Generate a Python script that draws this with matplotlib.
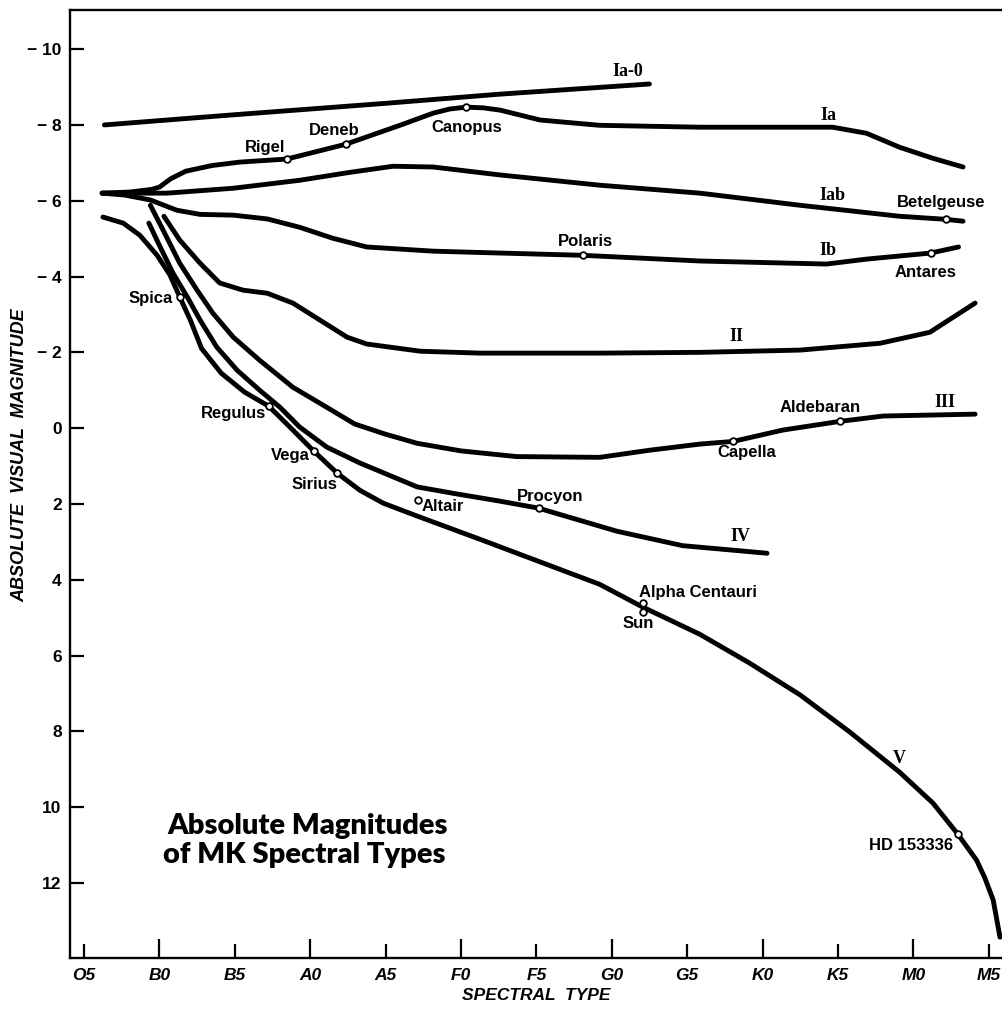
import matplotlib
matplotlib.use("Agg")
import matplotlib.pyplot as plt

# spectral type index: O5=0, B0=1, B5=2, ... M5=12
spec_types = ["O5", "B0", "B5", "A0", "A5", "F0", "F5", "G0", "G5", "K0", "K5", "M0", "M5"]
mag_ticks = [-10, -8, -6, -4, -2, 0, 2, 4, 6, 8, 10, 12]

# luminosity classes (spectral index, absolute magnitude)
ia0_x = [0.27, 2.0, 4.0, 5.5, 7.5]
ia0_y = [-8.0, -8.27, -8.57, -8.81, -9.08]

ia_x = [0.24, 0.61, 0.90, 1.0, 1.15, 1.35, 1.7, 2.07, 2.69, 3.47, 4.19, 4.63, 4.85, 5.07,
        5.30, 5.52, 6.05, 6.84, 8.17, 9.93, 10.38, 10.82, 11.26, 11.66]
ia_y = [-6.2, -6.23, -6.3, -6.36, -6.58, -6.78, -6.93, -7.02, -7.10, -7.49, -7.99, -8.31, -8.42, -8.47,
        -8.45, -8.39, -8.13, -7.99, -7.94, -7.94, -7.78, -7.41, -7.12, -6.89]

iab_x = [0.24, 1.10, 1.98, 2.86, 3.53, 4.10, 4.63, 5.52, 6.84, 8.17, 9.50, 10.82, 11.43, 11.66]
iab_y = [-6.2, -6.2, -6.33, -6.54, -6.75, -6.91, -6.89, -6.68, -6.41, -6.2, -5.88, -5.59, -5.51, -5.46]

ib_x = [0.24, 0.54, 0.88, 1.23, 1.54, 1.98, 2.43, 2.86, 3.30, 3.75, 4.63, 5.52, 6.62,
        8.17, 9.85, 10.38, 11.23, 11.60]
ib_y = [-6.2, -6.15, -6.02, -5.75, -5.64, -5.62, -5.52, -5.30, -5.01, -4.78, -4.67, -4.62, -4.56,
        -4.41, -4.33, -4.46, -4.62, -4.78]

ii_x = [1.06, 1.27, 1.54, 1.80, 2.11, 2.43, 2.77, 3.13, 3.49, 3.75, 4.46, 5.25, 6.84,
        8.17, 9.50, 10.56, 11.22, 11.82]
ii_y = [-5.59, -4.96, -4.35, -3.83, -3.64, -3.56, -3.30, -2.85, -2.40, -2.22, -2.03, -1.98, -1.98,
        -2.0, -2.06, -2.24, -2.53, -3.30]

iii_x = [0.88, 1.05, 1.27, 1.50, 1.71, 1.98, 2.33, 2.77, 3.22, 3.59, 4.0, 4.42, 5.0, 5.74, 6.84,
         7.51, 8.17, 8.61, 9.27, 10.03, 10.60, 11.82]
iii_y = [-5.88, -5.22, -4.35, -3.64, -3.03, -2.40, -1.79, -1.08, -0.55, -0.11, 0.16, 0.40, 0.60, 0.75, 0.77,
         0.58, 0.42, 0.35, 0.05, -0.18, -0.32, -0.37]

iv_x = [0.86, 1.01, 1.18, 1.37, 1.54, 1.76, 2.03, 2.33, 2.60, 2.86, 3.22, 3.66, 4.42, 4.9,
        5.5, 6.03, 6.18, 7.07, 7.94, 9.06]
iv_y = [-5.41, -4.78, -4.09, -3.46, -2.85, -2.14, -1.53, -1.0, -0.55, -0.03, 0.50, 0.92, 1.55, 1.72,
        1.92, 2.11, 2.20, 2.72, 3.10, 3.30]

v_x = [0.25, 0.52, 0.74, 0.97, 1.14, 1.27, 1.41, 1.56, 1.82, 2.13, 2.45, 2.73, 3.05, 3.36,
       3.66, 3.97, 4.42, 5.29, 6.84, 7.41, 8.17, 8.83, 9.50, 10.16, 10.82, 11.26, 11.59,
       11.84, 11.95, 12.06, 12.15]
v_y = [-5.57, -5.41, -5.09, -4.56, -4.04, -3.46, -2.85, -2.1, -1.45, -0.95, -0.58, -0.03, 0.61, 1.19,
       1.64, 1.98, 2.32, 2.96, 4.12, 4.72, 5.44, 6.20, 7.04, 8.02, 9.08, 9.89, 10.71,
       11.40, 11.87, 12.45, 13.43]

# named stars
star_names = ["Spica", "Rigel", "Deneb", "Canopus", "Betelgeuse", "Polaris", "Antares",
              "Regulus", "Vega", "Sirius", "Altair", "Procyon", "Capella", "Aldebaran",
              "Alpha Centauri", "Sun", "HD 153336"]
star_x = [1.27, 2.69, 3.47, 5.07, 11.43, 6.62, 11.23, 2.45, 3.05, 3.36, 4.43, 6.03, 8.61,
          10.03, 7.41, 7.41, 11.59]
star_y = [-3.46, -7.10, -7.49, -8.47, -5.51, -4.56, -4.62, -0.58, 0.61, 1.19, 1.90, 2.11, 0.35,
          -0.18, 4.60, 4.86, 10.71]

# label placement (pixel offsets from the marker, alignment)
label_pos = {
    "Spica": (-7, -1, "right"), "Rigel": (-2, 12, "right"), "Deneb": (-11, 14, "center"),
    "Canopus": (1, -20, "center"), "Betelgeuse": (-5, 17, "center"),
    "Polaris": (2, 14, "center"), "Antares": (-5, -19, "center"),
    "Regulus": (-3, -7, "right"), "Vega": (-4, -4, "right"), "Sirius": (0, -11, "right"),
    "Altair": (4, -6, "left"), "Procyon": (12, 12, "center"), "Capella": (14, -11, "center"),
    "Aldebaran": (-20, 14, "center"), "Alpha Centauri": (-4, 10, "left"),
    "Sun": (-4, -11, "center"), "HD 153336": (-5, -11, "right"),
}

class_names = ["Ia-0", "Ia", "Iab", "Ib", "II", "III", "IV", "V"]
class_pos = [(7.21, -9.42), (9.87, -8.26), (9.93, -6.15), (9.87, -4.70), (8.65, -2.43),
             (11.42, -0.69), (8.70, 2.85), (10.82, 8.71)]

fig = plt.figure(figsize=(10.03, 10.09), dpi=100)
ax = fig.add_axes([0.0698, 0.0505, 0.9302, 0.9395])

curves = [(ia0_x, ia0_y), (ia_x, ia_y), (iab_x, iab_y), (ib_x, ib_y), (ii_x, ii_y),
          (iii_x, iii_y), (iv_x, iv_y), (v_x, v_y)]
for cx, cy in curves:
    ax.plot(cx, cy, color="black", lw=3.5, solid_capstyle="round", solid_joinstyle="round")

ax.plot(star_x, star_y, "o", ms=4.8, mfc="white", mec="black", mew=1.3, zorder=5)

for name, sx, sy in zip(star_names, star_x, star_y):
    dx, dy, ha = label_pos[name]
    ax.annotate(name, (sx, sy), xytext=(dx, dy), textcoords="offset pixels",
                ha=ha, va="center", fontsize=12, family="Liberation Sans", fontweight="bold")

for name, (cx, cy) in zip(class_names, class_pos):
    ax.text(cx, cy, name, ha="center", va="center", fontsize=13,
            family="Liberation Serif", fontweight="bold")

ax.set_xlim(-0.186, 12.19)
ax.set_ylim(13.98, -11.03)

ax.set_xticks(range(1, 13, 2), [spec_types[i] for i in range(1, 13, 2)])
ax.set_xticks(range(0, 13, 2), [spec_types[i] for i in range(0, 13, 2)], minor=True)
ax.tick_params(axis="x", which="major", direction="in", length=14, width=1.6, pad=7)
ax.tick_params(axis="x", which="minor", direction="in", length=10, width=1.6, pad=7)
for lab in ax.get_xticklabels(which="both"):
    lab.set_fontsize(12.5)
    lab.set_fontstyle("italic")
    lab.set_fontweight("bold")
    lab.set_family("Liberation Sans")

ax.set_yticks(mag_ticks, [("\u2212 %d" % -m) if m < 0 else str(m) for m in mag_ticks])
ax.tick_params(axis="y", direction="in", length=10, width=1.6, pad=6)
for lab in ax.get_yticklabels():
    lab.set_fontsize(12.5)
    lab.set_fontweight("bold")
    lab.set_family("Liberation Sans")

ax.set_xlabel("SPECTRAL  TYPE", fontsize=12.5, fontstyle="italic", fontweight="bold",
              family="Liberation Sans", labelpad=4)
ax.set_ylabel("ABSOLUTE  VISUAL  MAGNITUDE", fontsize=13, fontstyle="italic",
              fontweight="bold", family="Liberation Sans")
ax.yaxis.set_label_coords(-0.045, 0.53)

for s in ["left", "top", "bottom"]:
    ax.spines[s].set_linewidth(1.7)
ax.spines["right"].set_visible(False)

fig.text(0.307, 1 - 826 / 1009, "Absolute Magnitudes", ha="center", va="center",
         fontsize=21, fontweight="heavy", family="Lato")
fig.text(0.303, 1 - 855 / 1009, "of MK Spectral Types", ha="center", va="center",
         fontsize=21, fontweight="heavy", family="Lato")

fig.savefig("out.png", dpi=100)
